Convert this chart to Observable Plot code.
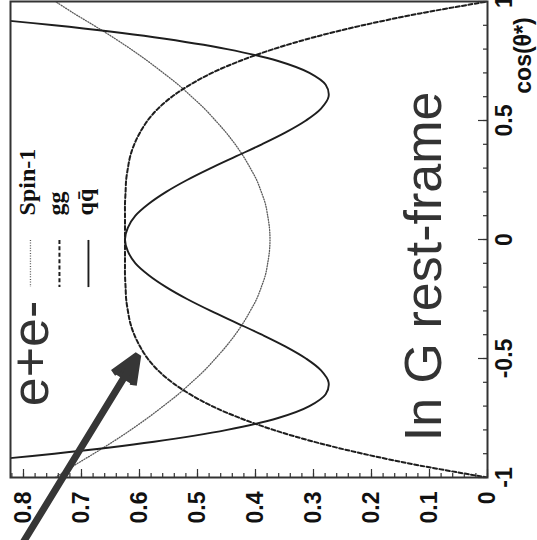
<!DOCTYPE html>
<html>
<head>
<meta charset="utf-8">
<script src="https://cdn.jsdelivr.net/npm/d3@7"></script>
<script src="https://cdn.jsdelivr.net/npm/@observablehq/plot@0.6"></script>
<style>
  html, body { margin: 0; padding: 0; background: #fff; }
  #chart svg { display: block; }
</style>
</head>
<body>
<div id="chart"></div>
<script>
// Angular distributions dN/dcos(θ*) in the graviton rest frame, drawn turned
// a quarter turn: cos(θ*) runs up the right-hand side, the density runs along the bottom.
const cosTheta = [-1, -0.95, -0.9, -0.85, -0.8, -0.75, -0.7, -0.65, -0.6, -0.55, -0.5,
  -0.45, -0.4, -0.35, -0.3, -0.25, -0.2, -0.15, -0.1, -0.05, 0,
  0.05, 0.1, 0.15, 0.2, 0.25, 0.3, 0.35, 0.4, 0.45, 0.5,
  0.55, 0.6, 0.65, 0.7, 0.75, 0.8, 0.85, 0.9, 0.95, 1];

const spin1 = [0.745, 0.713, 0.679, 0.646, 0.615, 0.586, 0.559, 0.533, 0.51, 0.488, 0.469,
  0.451, 0.435, 0.421, 0.409, 0.398, 0.39, 0.383, 0.379, 0.376, 0.375,
  0.376, 0.379, 0.383, 0.39, 0.398, 0.409, 0.421, 0.435, 0.451, 0.469,
  0.488, 0.51, 0.533, 0.559, 0.586, 0.615, 0.646, 0.679, 0.713, 0.745];

const gg = [0, 0.116, 0.215, 0.299, 0.369, 0.427, 0.475, 0.513, 0.544, 0.568, 0.586,
  0.599, 0.609, 0.616, 0.62, 0.623, 0.624, 0.625, 0.625, 0.625, 0.625,
  0.625, 0.625, 0.625, 0.624, 0.623, 0.62, 0.616, 0.609, 0.599, 0.586,
  0.568, 0.544, 0.513, 0.475, 0.427, 0.369, 0.299, 0.215, 0.116, 0];

const qqbar = [1.25, 0.969, 0.747, 0.575, 0.449, 0.361, 0.307, 0.279, 0.274, 0.287, 0.313,
  0.348, 0.389, 0.433, 0.477, 0.518, 0.554, 0.584, 0.607, 0.62, 0.625,
  0.62, 0.607, 0.584, 0.554, 0.518, 0.477, 0.433, 0.389, 0.348, 0.313,
  0.287, 0.274, 0.279, 0.307, 0.361, 0.449, 0.575, 0.747, 0.969, 1.25];

const valueTicks = [0, 0.1, 0.2, 0.3, 0.4, 0.5, 0.6, 0.7, 0.8];
const valueTickLabels = ["0", "0.1", "0.2", "0.3", "0.4", "0.5", "0.6", "0.7", "0.8"];
const valueMinorTicks = d3.range(0, 0.821, 0.02);
const cosTicks = [-1, -0.5, 0, 0.5, 1];
const cosTickLabels = ["-1", "-0.5", "0", "0.5", "1"];
const cosMinorTicks = d3.range(-1, 1.001, 0.1);

const seriesNames = ["Spin-1", "gg", "q\u0071\u0304"];
const seriesValues = [spin1, gg, qqbar];

// line styles per series: dotted grey, dashed, solid
const seriesStyles = [
  {stroke: "#5a5a5a", strokeWidth: 1.3, strokeDasharray: "1,1.6"},
  {stroke: "#1e1e1e", strokeWidth: 2, strokeDasharray: "4,2.4"},
  {stroke: "#1e1e1e", strokeWidth: 1.9}
];

const rows = seriesNames.map((name, s) =>
  cosTheta.map((c, i) => ({series: name, cos: c, value: seriesValues[s][i]})));

const sans = "Liberation Sans, Arial, Helvetica, sans-serif";
const serif = "Liberation Serif, Times New Roman, serif";

const W = 537, H = 540;
const mL = 10, mR = 50, mT = 1, mB = 63;
const innerW = W - mL - mR, innerH = H - mT - mB;

const marks = [];

// curves
rows.forEach((data, s) => {
  marks.push(Plot.line(data, {x: "value", y: "cos", curve: "catmull-rom", clip: true,
    strokeLinejoin: "round", ...seriesStyles[s]}));
});

// legend: sample line + label, one row per series
seriesNames.forEach((name, s) => {
  const xv = 0.788 - 0.05 * s;
  marks.push(Plot.ruleX([name], {x: () => xv, y1: () => -0.004, y2: () => -0.202, ...seriesStyles[s]}));
  marks.push(Plot.text([name], {x: () => xv + 0.006, y: () => 0.101, text: d => d,
    rotate: -90, textAnchor: "start", lineAnchor: "middle",
    fontFamily: serif, fontWeight: "bold", fontSize: 24, fill: "#111"}));
});

// in-plot annotations
marks.push(Plot.text(["e+e-"], {x: () => 0.758, y: () => -0.479, text: d => d,
  rotate: -90, textAnchor: "middle", lineAnchor: "bottom",
  fontFamily: sans, fontSize: 52, fill: "#333"}));
marks.push(Plot.text(["In G rest-frame"], {x: () => 0.081, y: () => -0.113, text: d => d,
  rotate: -90, textAnchor: "middle", lineAnchor: "bottom",
  fontFamily: sans, fontSize: 52, fill: "#333"}));

// axis ticks, drawn inward from the frame
marks.push(Plot.ruleX(valueMinorTicks, {x: d => d, insetTop: innerH - 4, stroke: "#333", strokeWidth: 1.2}));
marks.push(Plot.ruleX(valueTicks, {x: d => d, insetTop: innerH - 8, stroke: "#333", strokeWidth: 1.2}));
marks.push(Plot.ruleY(cosMinorTicks, {y: d => d, insetLeft: innerW - 4, stroke: "#333", strokeWidth: 1.2}));
marks.push(Plot.ruleY(cosTicks, {y: d => d, insetLeft: innerW - 9, stroke: "#333", strokeWidth: 1.2}));

// frame
marks.push(Plot.frame({stroke: "#333", strokeWidth: 2}));

// tick labels
marks.push(Plot.text(valueTicks, {x: d => d, frameAnchor: "bottom", dy: 14,
  text: (d, i) => valueTickLabels[i], rotate: -90, textAnchor: "end", lineAnchor: "middle",
  fontFamily: sans, fontWeight: "bold", fontSize: 23, fill: "#111"}));
marks.push(Plot.text(cosTicks, {y: d => d, frameAnchor: "right", dx: 17,
  text: (d, i) => cosTickLabels[i], rotate: -90, textAnchor: "middle", lineAnchor: "middle",
  fontFamily: sans, fontWeight: "bold", fontSize: 23, fill: "#111"}));

// axis title
marks.push(Plot.text(["cos(θ*)"], {frameAnchor: "top-right", dx: 43, dy: 54, text: d => d,
  rotate: -90, textAnchor: "middle", lineAnchor: "bottom",
  fontFamily: sans, fontWeight: "bold", fontSize: 23, fill: "#111"}));

// pointer arrow toward the gg curve
marks.push(Plot.arrow([{from: [0.805, -1.29], to: [0.603, -0.486]}], {
  x1: d => d.from[0], y1: d => d.from[1], x2: d => d.to[0], y2: d => d.to[1],
  stroke: "#363636", fill: "#363636", strokeWidth: 7, headLength: 6.5, headAngle: 46,
  strokeLinecap: "butt"}));

const chart = Plot.plot({
  width: W, height: H,
  marginLeft: mL, marginRight: mR, marginTop: mT, marginBottom: mB,
  x: {domain: [0.8224, 0], axis: null},
  y: {domain: [-1, 1], axis: null},
  style: {background: "#fff", overflow: "hidden"},
  marks
});
document.getElementById("chart").appendChild(chart);
</script>
</body>
</html>
